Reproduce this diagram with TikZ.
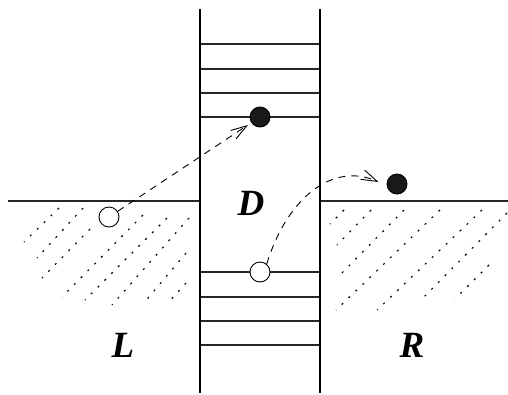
\documentclass[tikz,border=0pt]{standalone}
\usepackage{fontspec}
\setmainfont{Liberation Serif}
\usetikzlibrary{arrows.meta}
\tikzset{
  wall/.style={line width=2pt, black},
  rung/.style={line width=1.1pt, black!85},
  ground/.style={line width=1.1pt, black!85},
  hatch/.style={line width=1.1pt, dash pattern=on 2pt off 7.6pt},
  hole/.style={circle, draw=black, fill=white, line width=0.9pt, inner sep=0pt, minimum size=20pt},
  elec/.style={circle, draw=black, fill=black!90, line width=0.9pt, inner sep=0pt, minimum size=20pt},
  hop/.style={line width=0.9pt, dash pattern=on 7pt off 6pt, -{Straight Barb[length=16pt,width=10pt]}},
  lbl/.style={font=\fontsize{37}{40}\selectfont\bfseries\itshape, inner sep=0pt}
}
\begin{document}
\begin{tikzpicture}[x=1pt,y=-1pt]
  \useasboundingbox (0,0) rectangle (508,394);

  % ground level on both sides
  \draw[ground] (8,201) -- (200,201);
  \draw[ground] (320,201) -- (508,201);

  % hatching of the two regions
  \foreach \xa/\ya/\xb/\yb in {59/208/24/242, 83/208/37/258, 90/229/42/278,
      143/215/62/297, 167/218/85/300, 189/218/112/305, 186/253/143/304, 186/283/167/304}
    \draw[hatch] (\xa,\ya) -- (\xb,\yb);
  \foreach \xa/\ya/\xb/\yb in {344/210/330/224, 371/210/337/245, 404/210/337/278,
      440/210/336/310, 482/210/377/310, 507/213/420/301, 489/265/455/299}
    \draw[hatch] (\xa,\ya) -- (\xb,\yb);

  % levels in the dot
  \foreach \y in {44,69,93,117,272,297,321,345}
    \draw[rung] (200,\y) -- (320,\y);

  % walls
  \draw[wall] (200,9) -- (200,393);
  \draw[wall] (320,9) -- (320,393);

  \node[elec] (e1) at (260,117) {};
  \node[hole] (h1) at (109,217) {};
  \node[hole] (h2) at (260,272) {};
  \node[elec] (e2) at (397,184) {};

  \draw[hop, shorten >=4pt] (h1) -- (e1);
  \draw[hop, shorten >=9pt] (h2.50) .. controls (288,195) and (335,162) .. (e2.190);

  \node[lbl] (lD) at (251,203) {D};
  \node[lbl] (lL) at (123,345) {L};
  \node[lbl] (lR) at (412,345) {R};
\end{tikzpicture}
\end{document}
